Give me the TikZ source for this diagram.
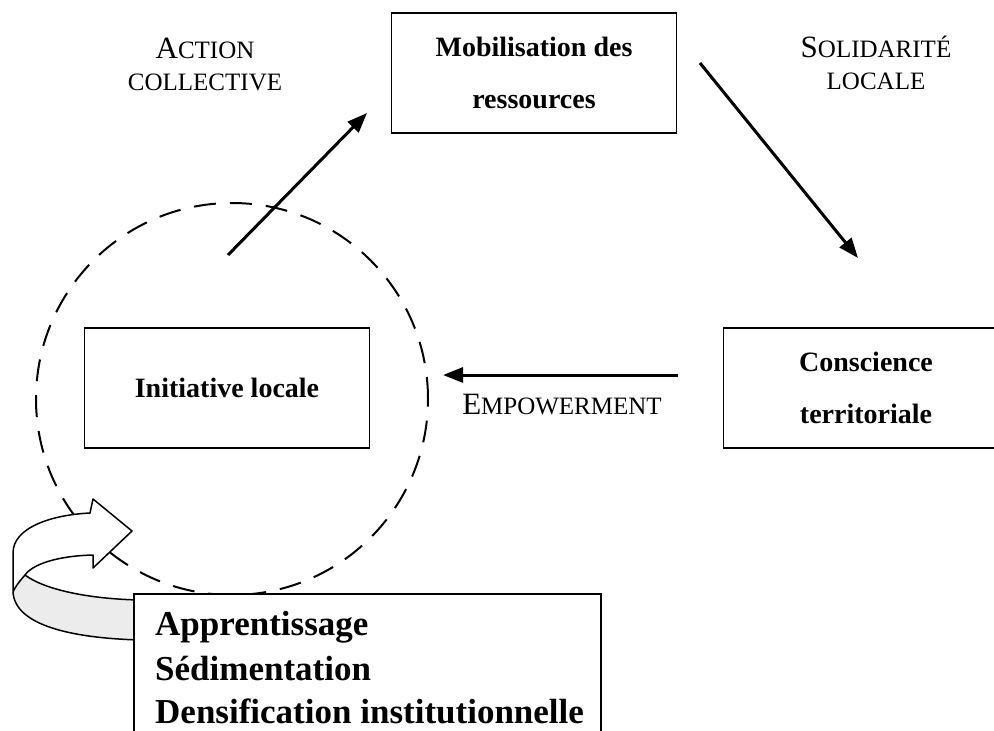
\documentclass[tikz,border=0pt]{standalone}
\usepackage{fontspec}
\setmainfont{Liberation Serif}
\usetikzlibrary{arrows.meta}
\newcommand\mysc[2]{{\fontsize{31}{31}\selectfont #1}{\fontsize{25}{25}\selectfont #2}}
\begin{document}
\begin{tikzpicture}[x=1pt,y=-1pt,
  box/.style={draw, line width=1.5pt, fill=white, minimum width=285pt, minimum height=120pt,
    align=center, inner sep=0pt, font=\fontsize{28}{52}\selectfont\bfseries},
  arr/.style={line width=3pt, -{Triangle[length=20pt,width=15pt]}},
  lbl/.style={align=center, inner sep=0pt, font=\fontsize{25}{32}\selectfont},
  big/.style={anchor=base west, inner sep=0pt, font=\fontsize{35}{44}\selectfont\bfseries},
  outline/.style={line width=1.5pt, line join=round}
]
\useasboundingbox (0,0) rectangle (994,731);
\clip (0,0) rectangle (994,731);
\fill[white] (0,0) rectangle (994,731);

% dashed circle
\node (zone) [circle, draw, line width=2pt, dash pattern=on 22pt off 14pt,
  minimum size=392pt, inner sep=0pt] at (232,399) {};

% boxes
\node[box] (mob) at (534,73) {Mobilisation des\\ressources};
\node[box] (init) at (227,388) {Initiative locale};
\node[box] (cons) at (866,388) {Conscience\\territoriale};

% arrows
\coordinate (a1s) at (228,255); \coordinate (a1e) at (367,113);
\coordinate (a2s) at (700,63);  \coordinate (a2e) at (858,258);
\coordinate (a3s) at (678,375); \coordinate (a3e) at (443,375);
\draw[arr] (a1s) -- (a1e);
\draw[arr] (a2s) -- (a2e);
\draw[arr] (a3s) -- (a3e);

% labels
\node[lbl] (lac) at (205,64) {\mysc{A}{CTION}\\\mysc{}{COLLECTIVE}};
\node[lbl] (lsl) at (876,63) {\mysc{S}{OLIDARITÉ}\\\mysc{}{LOCALE}};
\node[lbl] (lem) at (562,405) {\mysc{E}{MPOWERMENT}};

% curved 3D arrow
\fill[gray!15] (25,575) .. controls (45,590) and (90,599) .. (140,600) -- (140,640)
  .. controls (70,638) and (15,625) .. (13,592) .. controls (15,587) and (19,582) .. (25,575) -- cycle;
\draw[outline] (25,575) .. controls (45,590) and (90,599) .. (140,600);
\draw[outline] (13,592) .. controls (15,625) and (70,638) .. (140,640);
\draw[outline, fill=white] (13,592) -- (13,553) .. controls (13,528) and (50,515) .. (90,513)
  -- (93,499) -- (132,531) -- (93,568) -- (93,555)
  .. controls (55,556) and (32,565) .. (25,575) .. controls (19,582) and (15,587) .. (13,592) -- cycle;

% bottom box
\node (learn) [draw, line width=1.5pt, fill=white, minimum width=467pt, minimum height=170pt,
  anchor=north west, inner sep=0pt] at (133,593) {};
\node[big] (l1) at (155,635) {Apprentissage};
\node[big] (l2) at (155,680) {Sédimentation};
\node[big] (l3) at (155,723) {Densification institutionnelle};
\end{tikzpicture}
\end{document}
